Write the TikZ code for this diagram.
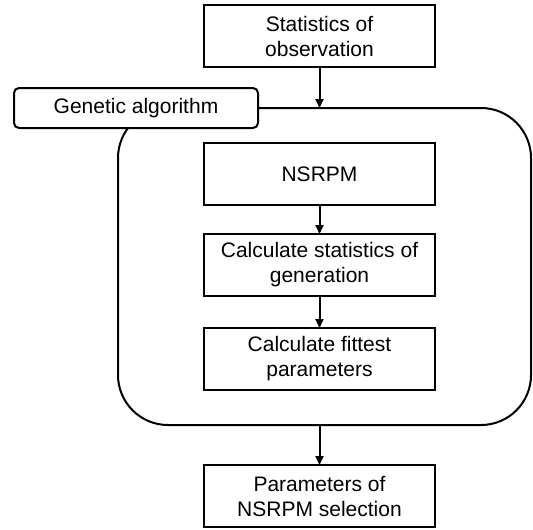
\documentclass[tikz,border=0pt]{standalone}
\usepackage{fontspec}
\setmainfont{Liberation Sans}
\usetikzlibrary{positioning,arrows.meta}
\begin{document}
\begin{tikzpicture}[x=1pt,y=-1pt,auto,
				line width=2pt,>={Triangle[length=9pt,width=8pt]},
				proc node/.style = {rectangle,draw,fill=white,align=center,inner sep=0pt,outer sep=0pt,
					minimum width=231pt,minimum height=62pt,font=\fontsize{21}{25}\selectfont}]
				
				\useasboundingbox (0,0) rectangle (533,530);
				\node[draw,rounded corners=50pt,outer sep=0pt,minimum width=413pt,minimum height=317pt] (loop) at (324.5,266.5) {};
				\node[draw,fill=white,rounded corners=5pt,outer sep=0pt,minimum width=244pt,minimum height=40pt,
					font=\fontsize{21}{25}\selectfont] (ga) at (136,108) {Genetic algorithm};
				
				\node[proc node] (obs) at (319.5,36) {Statistics of\\observation};
				\node[proc node] [below=76pt of obs] (nsrpm) {NSRPM};
				\node[proc node] [below=29pt of nsrpm] (stat) {Calculate statistics of\\generation};
				\node[proc node] [below=32pt of stat] (fit) {Calculate fittest\\parameters};
				\node[proc node] [below=75pt of fit] (sel) {Parameters of\\NSRPM selection};
				
				\path[->]
				(obs) edge (obs |- loop.north)
				(nsrpm) edge (stat)
				(stat) edge (fit)
				(sel |- loop.south) edge (sel);
				\end{tikzpicture}
\end{document}
